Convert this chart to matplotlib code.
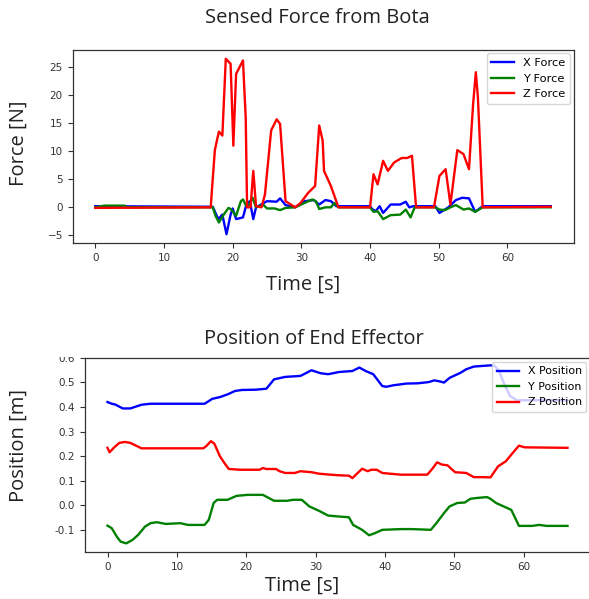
import matplotlib
matplotlib.use("Agg")
import matplotlib.pyplot as plt
from matplotlib.patches import Rectangle

# ---------------- data: force ----------------
t_zf = [0, 16.8, 17.4, 17.7, 18.0, 18.5, 19.0, 19.7, 20.1, 20.5, 21.5, 21.9, 22.1, 22.6, 23.0, 23.4,
        24.2, 24.7, 25.6, 26.4, 26.9, 27.7, 29.1, 29.9, 31.0, 32.0, 32.6, 33.1, 33.3, 34.3, 35.4,
        40.0, 40.5, 41.1, 41.9, 42.6, 43.5, 44.6, 45.4, 46.1, 46.7, 49.3, 50.1, 51.0, 51.7, 52.7,
        53.6, 54.4, 55.0, 55.4, 55.7, 56.4, 66.3]
z_force = [-0.1, 0, 10.1, 11.9, 13.5, 12.8, 26.5, 25.6, 11.0, 23.8, 26.2, 16.0, 0, 0, 6.5, 0.2,
           0, 2.3, 13.7, 15.7, 14.9, 1.1, 0, 0.8, 2.6, 3.8, 14.6, 11.9, 6.5, 3.8, 0,
           0, 5.9, 4.1, 8.3, 6.5, 8.0, 8.8, 8.8, 9.2, 0, 0, 5.6, 6.8, 0.5, 10.2,
           9.5, 6.8, 18.4, 24.1, 19.6, 0, 0.1]

t_xf = [0, 17.1, 17.9, 18.5, 19.1, 19.7, 20.0, 20.5, 21.5, 22.0, 22.5, 23.0, 23.4, 24.0, 25.0,
        26.4, 26.9, 27.7, 29.1, 30.5, 31.8, 32.6, 33.5, 34.3, 35.1, 40.0, 40.3, 40.8, 41.4, 41.9,
        43.0, 44.4, 45.2, 45.7, 46.3, 49.5, 50.1, 51.4, 52.5, 53.4, 54.4, 55.3, 56.4, 66.3]
x_force = [0.2, 0.1, -2.1, -1.3, -4.8, -1.3, -0.2, -2.1, -1.8, 0.5, 1.1, -2.1, 0, 0.4, 1.1,
           1.0, 1.6, 0.4, 0, 1.1, 1.3, 0.5, 1.3, 1.1, 0.2, 0.2, -0.3, -0.7, 0.2, -1.0,
           0.5, 0.5, 1.0, 0, 0.2, 0.2, -1.0, 0, 1.3, 1.7, 1.6, -0.8, 0.2, 0.2]

t_yf = [0, 1.3, 4.3, 4.5, 17.1, 17.5, 18.0, 18.7, 19.4, 19.8, 20.5, 21.2, 21.5, 22.0, 22.4, 22.9,
        23.4, 24.5, 25.0, 26.1, 26.9, 27.7, 29.1, 30.5, 31.6, 32.1, 32.6, 33.5, 34.3, 34.8, 35.4,
        40.0, 40.5, 41.1, 41.9, 43.0, 44.4, 45.2, 45.9, 46.5, 49.5, 50.1, 50.9, 51.7, 52.5, 53.6,
        54.4, 55.3, 56.4, 66.3]
y_force = [0, 0.3, 0.3, 0, 0, -1.5, -2.7, -1.3, -0.1, -0.4, -1.5, 1.1, 1.4, 0.2, 0.5, 1.7,
           0, 0.4, -0.2, -0.2, -0.5, -0.1, 0, 0.8, 1.4, 1.1, -0.3, 0, 0, 0.8, 0,
           0, -0.8, -0.7, -2.1, -1.4, -1.3, -0.4, -1.8, 0, 0, -0.4, -0.5, 0, 0.4, -0.4,
           -0.2, -0.8, 0, 0]

# ---------------- data: position ----------------
t_xp = [0, 0.6, 1.1, 2.2, 3.3, 4.9, 6.2, 8.9, 14.0, 15.1, 16.2, 17.3, 18.4, 19.4, 21.3, 22.9,
        24.0, 25.6, 27.8, 28.3, 29.4, 30.7, 31.8, 33.4, 35.3, 36.3, 37.2, 38.3, 39.6, 40.2, 41.2,
        43.1, 44.7, 46.3, 47.1, 48.0, 48.5, 49.3, 50.9, 51.7, 52.8, 55.2, 55.8, 56.4, 57.3, 58.0,
        59.0, 63.0, 66.3]
x_pos = [0.42, 0.413, 0.41, 0.394, 0.394, 0.409, 0.413, 0.413, 0.413, 0.433, 0.44, 0.451, 0.465,
         0.469, 0.47, 0.474, 0.512, 0.522, 0.526, 0.533, 0.549, 0.537, 0.533, 0.542, 0.546, 0.56,
         0.546, 0.533, 0.485, 0.482, 0.488, 0.495, 0.496, 0.501, 0.508, 0.503, 0.499, 0.518, 0.539,
         0.553, 0.564, 0.569, 0.567, 0.547, 0.486, 0.445, 0.427, 0.428, 0.427]

t_yp = [0, 0.6, 1.4, 1.9, 2.7, 3.6, 4.4, 5.4, 6.2, 7.1, 8.4, 10.5, 11.6, 14.0, 14.6, 15.3, 15.8,
        17.3, 18.6, 20.2, 22.4, 24.0, 25.9, 26.7, 28.0, 29.1, 30.5, 31.8, 33.4, 34.8, 35.4, 36.7,
        37.7, 38.5, 39.6, 42.3, 43.9, 46.6, 47.4, 48.5, 49.3, 50.4, 51.5, 52.3, 53.1, 54.7, 55.2,
        56.0, 57.1, 58.2, 59.3, 61.2, 62.2, 63.3, 66.3]
y_pos = [-0.082, -0.092, -0.129, -0.147, -0.154, -0.14, -0.12, -0.086, -0.072, -0.068, -0.075,
         -0.072, -0.079, -0.079, -0.058, 0.01, 0.023, 0.023, 0.039, 0.043, 0.043, 0.019, 0.019,
         0.023, 0.023, -0.004, -0.022, -0.041, -0.045, -0.048, -0.079, -0.099, -0.121, -0.113,
         -0.099, -0.096, -0.096, -0.099, -0.072, -0.031, -0.004, 0.01, 0.012, 0.027, 0.03, 0.034,
         0.027, 0.01, -0.004, -0.018, -0.083, -0.083, -0.079, -0.083, -0.083]

t_zp = [0, 0.3, 0.9, 1.7, 2.5, 3.3, 4.1, 4.9, 6.2, 13.8, 14.2, 14.9, 15.4, 16.2, 17.0, 17.5, 19.2,
        21.9, 22.4, 22.9, 24.3, 24.8, 25.6, 27.0, 27.8, 29.4, 30.5, 32.1, 33.7, 34.8, 35.3, 35.8,
        36.7, 37.5, 38.0, 38.8, 39.6, 40.7, 42.3, 43.9, 46.1, 46.9, 47.5, 48.2, 49.0, 50.1, 51.7,
        52.8, 54.1, 55.2, 56.3, 57.4, 58.4, 59.3, 60.1, 66.3]
z_pos = [0.234, 0.216, 0.234, 0.254, 0.258, 0.254, 0.243, 0.232, 0.232, 0.232, 0.24, 0.261, 0.251,
         0.2, 0.166, 0.148, 0.145, 0.145, 0.152, 0.148, 0.148, 0.139, 0.132, 0.132, 0.139, 0.135,
         0.129, 0.125, 0.122, 0.121, 0.111, 0.125, 0.149, 0.139, 0.145, 0.145, 0.132, 0.129, 0.125,
         0.125, 0.125, 0.152, 0.175, 0.166, 0.163, 0.135, 0.132, 0.115, 0.115, 0.114, 0.159, 0.179,
         0.213, 0.243, 0.236, 0.234]

force_labels = ["X Force", "Y Force", "Z Force"]
pos_labels = ["X Position", "Y Position", "Z Position"]
x_ticks = [0, 10, 20, 30, 40, 50, 60]
force_ticks = [-5, 0, 5, 10, 15, 20, 25]
force_ticklabels = ["\u22125", "0", "5", "10", "15", "20", "25"]
pos_ticks = [-0.1, 0.0, 0.1, 0.2, 0.3, 0.4, 0.5, 0.6]
pos_ticklabels = ["-0.1", "0.0", "0.1", "0.2", "0.3", "0.4", "0.5", "0.6"]

TXT = "#222222"
TICK = "#333333"
LW = 1.7

fig = plt.figure(figsize=(5.89, 5.99), dpi=100)

def style(ax):
    for s in ax.spines.values():
        s.set_color("#333333")
        s.set_linewidth(0.9)
    ax.tick_params(labelsize=7.5, colors=TICK, length=3.5, width=0.8)

# ---- top axes ----
ax1 = fig.add_axes([72.5 / 589, 1 - 243 / 599, 501 / 589, 193 / 599])
ax1.plot(t_xf, x_force, color="blue", lw=LW, label=force_labels[0])
ax1.plot(t_yf, y_force, color="green", lw=LW, label=force_labels[1])
ax1.plot(t_zf, z_force, color="red", lw=LW, label=force_labels[2])
ax1.set_xticks(x_ticks)
ax1.set_yticks(force_ticks)
ax1.set_yticklabels(force_ticklabels)
style(ax1)
ax1.legend(loc="upper right", fontsize=8.2, borderaxespad=0.3)

# ---- bottom axes ----
ax2 = fig.add_axes([84.5 / 589, 1 - 552 / 599, 506 / 589, 194.3 / 599])
ax2.plot(t_xp, x_pos, color="blue", lw=LW, label=pos_labels[0])
ax2.plot(t_yp, y_pos, color="green", lw=LW, label=pos_labels[1])
ax2.plot(t_zp, z_pos, color="red", lw=LW, label=pos_labels[2])
ax2.set_xticks(x_ticks)
ax2.set_yticks(pos_ticks)
ax2.set_yticklabels(pos_ticklabels)
ax2.set_ylim(-0.189, 0.6)
style(ax2)
ax2.legend(loc="upper right", fontsize=7.9, borderaxespad=0.4)

# ---- texts ----
fnt = dict(family="Open Sans", fontsize=14.5, color=TXT)
fig.text(317 / 589, 1 - 18 / 599, "Sensed Force from Bota", ha="center", va="center", **fnt)
fig.text(303 / 589, 1 - 285 / 599, "Time [s]", ha="center", va="center", **fnt)
fig.text(19 / 589, 1 - 143 / 599, "Force [N]", ha="center", va="center", rotation=90, **fnt)
fig.text(314 / 589, 1 - 339 / 599, "Position of End Effector", ha="center", va="center", **fnt)
fig.text(302 / 589, 1 - 586 / 599, "Time [s]", ha="center", va="center", **fnt)
fig.text(19 / 589, 1 - 445 / 599, "Position [m]", ha="center", va="center", rotation=90, **fnt)

# white band hiding upper half of the top tick label, as in the reference
fig.patches.append(Rectangle((35 / 589, 1 - 357.3 / 599), 45 / 589, 12 / 599,
                             transform=fig.transFigure, facecolor="white",
                             edgecolor="none", zorder=10))

fig.savefig("out.png", dpi=100)
